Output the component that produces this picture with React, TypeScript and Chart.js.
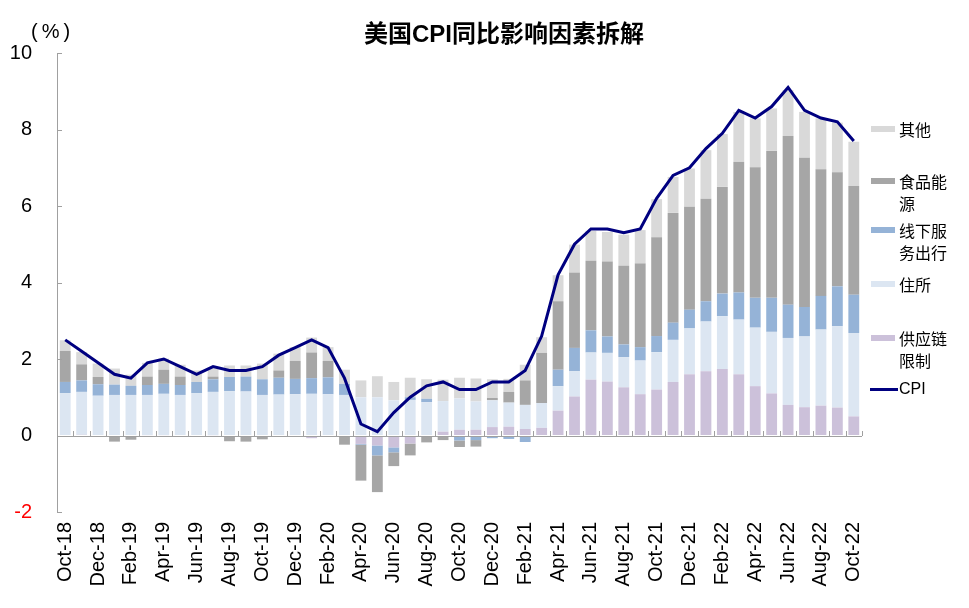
import React, { useEffect, useRef } from "react";
import { Chart, registerables } from "chart.js";

Chart.register(...registerables);

const months: string[] = [
  "Oct-18", "Nov-18", "Dec-18", "Jan-19", "Feb-19", "Mar-19", "Apr-19", "May-19", "Jun-19", "Jul-19", "Aug-19", "Sep-19",
  "Oct-19", "Nov-19", "Dec-19", "Jan-20", "Feb-20", "Mar-20", "Apr-20", "May-20", "Jun-20", "Jul-20", "Aug-20", "Sep-20",
  "Oct-20", "Nov-20", "Dec-20", "Jan-21", "Feb-21", "Mar-21", "Apr-21", "May-21", "Jun-21", "Jul-21", "Aug-21", "Sep-21",
  "Oct-21", "Nov-21", "Dec-21", "Jan-22", "Feb-22", "Mar-22", "Apr-22", "May-22", "Jun-22", "Jul-22", "Aug-22", "Sep-22",
  "Oct-22",
];

// 供应链限制
const supplyChain: number[] = [
  0, 0.02, 0, 0, 0, -0.01, -0.01, -0.04, -0.02, 0.01, -0.03, -0.03,
  -0.02, -0.03, -0.04, -0.07, -0.04, -0.02, -0.22, -0.26, -0.31, -0.21, -0.03, 0.1,
  0.15, 0.15, 0.22, 0.23, 0.17, 0.2, 0.65, 1.02, 1.46, 1.41, 1.26, 1.08,
  1.2, 1.4, 1.6, 1.68, 1.74, 1.6, 1.29, 1.1, 0.8, 0.74, 0.78, 0.73,
  0.5,
];
// 住所
const shelter: number[] = [
  1.11, 1.12, 1.04, 1.06, 1.06, 1.06, 1.09, 1.06, 1.11, 1.13, 1.16, 1.15,
  1.06, 1.07, 1.08, 1.09, 1.08, 1.06, 1.0, 1.0, 0.92, 0.93, 0.87, 0.8,
  0.82, 0.74, 0.7, 0.63, 0.63, 0.65, 0.64, 0.66, 0.71, 0.75, 0.79, 0.88,
  0.98, 1.1, 1.2, 1.3, 1.38, 1.43, 1.53, 1.61, 1.75, 1.85, 1.99, 2.13,
  2.18,
];
// 线下服务出行
const services: number[] = [
  0.29, 0.3, 0.3, 0.27, 0.24, 0.26, 0.26, 0.26, 0.29, 0.33, 0.37, 0.39,
  0.41, 0.44, 0.4, 0.41, 0.44, 0.29, -0.02, -0.26, -0.13, 0.07, 0.09, -0.02,
  -0.13, -0.12, -0.07, -0.09, -0.17, 0, 0.43, 0.61, 0.58, 0.43, 0.33, 0.35,
  0.42, 0.45, 0.49, 0.53, 0.59, 0.71, 0.78, 0.89, 0.87, 0.77, 0.88, 1.04,
  1.0,
];
// 食品能源
const foodEnergy: number[] = [
  0.81, 0.42, 0.19, -0.16, -0.11, 0.22, 0.37, 0.22, -0.02, 0.07, -0.12, -0.13,
  -0.08, 0.19, 0.47, 0.67, 0.43, -0.22, -0.94, -0.96, -0.36, -0.31, -0.15, -0.1,
  -0.17, -0.17, 0.06, 0.28, 0.64, 1.31, 1.79, 1.97, 1.82, 1.96, 2.06, 2.19,
  2.58, 2.87, 2.69, 2.68, 2.79, 3.42, 3.41, 3.84, 4.41, 3.9, 3.31, 2.98,
  2.84,
];
// 其他
const others: number[] = [
  0.28, 0.32, 0.35, 0.42, 0.29, 0.36, 0.29, 0.31, 0.3, 0.22, 0.3, 0.29,
  0.41, 0.44, 0.36, 0.39, 0.36, 0.37, 0.44, 0.55, 0.48, 0.51, 0.51, 0.56,
  0.54, 0.6, 0.49, 0.34, 0.41, 0.41, 0.68, 0.73, 0.78, 0.77, 0.81, 0.87,
  1.0, 0.94, 1.0, 1.27, 1.38, 1.3, 1.28, 1.11, 1.2, 1.2, 1.33, 1.3,
  1.16,
];
// CPI
const cpi: number[] = [
  2.5, 2.2, 1.9, 1.6, 1.5, 1.9, 2.0, 1.8, 1.6, 1.8, 1.7, 1.7,
  1.8, 2.1, 2.3, 2.5, 2.3, 1.5, 0.3, 0.1, 0.6, 1.0, 1.3, 1.4,
  1.2, 1.2, 1.4, 1.4, 1.7, 2.6, 4.2, 5.0, 5.4, 5.4, 5.3, 5.4,
  6.2, 6.8, 7.0, 7.5, 7.9, 8.5, 8.3, 8.6, 9.1, 8.5, 8.3, 8.2,
  7.7,
];

const yTicks: number[] = [-2, 0, 2, 4, 6, 8, 10];

const C_SUPPLY = "#CCC1DA";
const C_SHELTER = "#DCE6F2";
const C_SERVICES = "#95B3D7";
const C_FOOD = "#A6A6A6";
const C_OTHER = "#D9D9D9";
const C_CPI = "#000080";

const LATIN = '"Liberation Sans", Arial, "Noto Sans CJK SC", sans-serif';

const axisPlugin = {
  id: "zeroAxis",
  afterDatasetsDraw(chart: any) {
    const { ctx, chartArea, scales } = chart;
    const x = scales.x;
    const y = scales.y;
    const y0 = y.getPixelForValue(0);
    ctx.save();
    ctx.strokeStyle = "#A0A0A0";
    ctx.lineWidth = 1;
    ctx.beginPath();
    ctx.moveTo(chartArea.left, Math.round(y0) + 0.5);
    ctx.lineTo(chartArea.right, Math.round(y0) + 0.5);
    const n = months.length;
    for (let i = 0; i <= n; i++) {
      let px: number;
      if (i === 0) px = chartArea.left;
      else if (i === n) px = chartArea.right;
      else px = (x.getPixelForValue(i - 1) + x.getPixelForValue(i)) / 2;
      const rx = Math.round(px) + 0.5;
      ctx.moveTo(rx, Math.round(y0));
      ctx.lineTo(rx, Math.round(y0) - 5);
    }
    for (const t of yTicks) {
      const py = Math.round(y.getPixelForValue(t)) + 0.5;
      ctx.moveTo(chartArea.left, py);
      ctx.lineTo(chartArea.left + 5, py);
    }
    ctx.stroke();
    ctx.restore();
  },
};

export default function App() {
  const ref = useRef<HTMLCanvasElement | null>(null);

  useEffect(() => {
    if (!ref.current) return;
    const barCommon = {
      type: "bar" as const,
      stack: "s",
      order: 1,
      barPercentage: 0.66,
      categoryPercentage: 1,
    };
    const chart = new Chart(ref.current, {
      type: "bar",
      data: {
        labels: months,
        datasets: [
          { ...barCommon, label: "供应链限制", data: supplyChain, backgroundColor: C_SUPPLY },
          { ...barCommon, label: "住所", data: shelter, backgroundColor: C_SHELTER },
          { ...barCommon, label: "线下服务出行", data: services, backgroundColor: C_SERVICES },
          { ...barCommon, label: "食品能源", data: foodEnergy, backgroundColor: C_FOOD },
          { ...barCommon, label: "其他", data: others, backgroundColor: C_OTHER },
          {
            type: "line" as const,
            label: "CPI",
            data: cpi,
            stack: "cpi",
            order: 0,
            borderColor: C_CPI,
            borderWidth: 3,
            pointRadius: 0,
            tension: 0,
            fill: false,
          } as any,
        ],
      },
      options: {
        responsive: false,
        animation: false,
        layout: { padding: { left: 0, top: 53, right: 107, bottom: 0 } },
        plugins: {
          legend: { display: false },
          tooltip: { enabled: false },
          title: { display: false },
        },
        scales: {
          x: {
            stacked: true,
            offset: true,
            grid: { display: false, drawTicks: false },
            border: { display: false },
            afterFit: (scale: any) => {
              scale.height = 96;
            },
            ticks: {
              autoSkip: false,
              maxRotation: 90,
              minRotation: 90,
              padding: 10,
              color: "#000",
              font: { family: LATIN, size: 20 },
              callback: (_v: any, idx: number) => (idx % 2 === 0 ? months[idx] : ""),
            },
          },
          y: {
            stacked: true,
            min: -2,
            max: 10,
            afterFit: (scale: any) => {
              scale.width = 57;
            },
            afterBuildTicks: (scale: any) => {
              scale.ticks = yTicks.map((v) => ({ value: v }));
            },
            grid: { display: true, drawOnChartArea: false, drawTicks: false },
            border: { display: true, color: "#A0A0A0", width: 1 },
            ticks: {
              padding: 25,
              color: (c: any) => (c.tick && c.tick.value === -2 ? "#FF0000" : "#000"),
              font: { family: LATIN, size: 20 },
            },
          },
        },
      },
      plugins: [axisPlugin],
    });
    return () => chart.destroy();
  }, []);

  const legendItems = [
    { color: C_OTHER, lines: ["其他"], top: 118 },
    { color: C_FOOD, lines: ["食品能", "源"], top: 170 },
    { color: C_SERVICES, lines: ["线下服", "务出行"], top: 219 },
    { color: C_SHELTER, lines: ["住所"], top: 273 },
    { color: C_SUPPLY, lines: ["供应链", "限制"], top: 327 },
  ];

  return (
    <div style={{ position: "fixed", left: 0, top: 0, width: 969, height: 608, background: "#fff", overflow: "hidden" }}>
      <canvas ref={ref} width={969} height={608} style={{ position: "absolute", left: 0, top: 0, width: 969, height: 608 }} />
      <div
        style={{
          position: "absolute",
          left: 254,
          width: 500,
          top: 18,
          textAlign: "center",
          fontFamily: LATIN,
          fontWeight: "bold",
          fontSize: 24,
          lineHeight: "32px",
          color: "#000",
          whiteSpace: "nowrap",
        }}
      >
        美国CPI同比影响因素拆解
      </div>
      <div
        style={{
          position: "absolute",
          left: 31,
          top: 18,
          fontFamily: LATIN,
          fontSize: 20,
          lineHeight: "26px",
          letterSpacing: 4,
          color: "#000",
          whiteSpace: "nowrap",
        }}
      >
        (%)
      </div>
      {legendItems.map((it) => (
        <div key={it.lines.join("")} style={{ position: "absolute", left: 871, top: it.top }}>
          <div style={{ position: "absolute", left: 0, top: 8, width: 24, height: 6, background: it.color }} />
          <div
            style={{
              position: "absolute",
              left: 28,
              top: 0,
              fontFamily: '"Noto Sans CJK SC", sans-serif',
              fontSize: 16,
              lineHeight: "22px",
              color: "#000",
              whiteSpace: "nowrap",
            }}
          >
            {it.lines.map((l) => (
              <div key={l}>{l}</div>
            ))}
          </div>
        </div>
      ))}
      <div style={{ position: "absolute", left: 870, top: 378 }}>
        <div style={{ position: "absolute", left: 0, top: 10, width: 28, height: 3, background: C_CPI }} />
        <div
          style={{
            position: "absolute",
            left: 29,
            top: 0,
            fontFamily: LATIN,
            fontSize: 16,
            lineHeight: "22px",
            color: "#000",
          }}
        >
          CPI
        </div>
      </div>
    </div>
  );
}
